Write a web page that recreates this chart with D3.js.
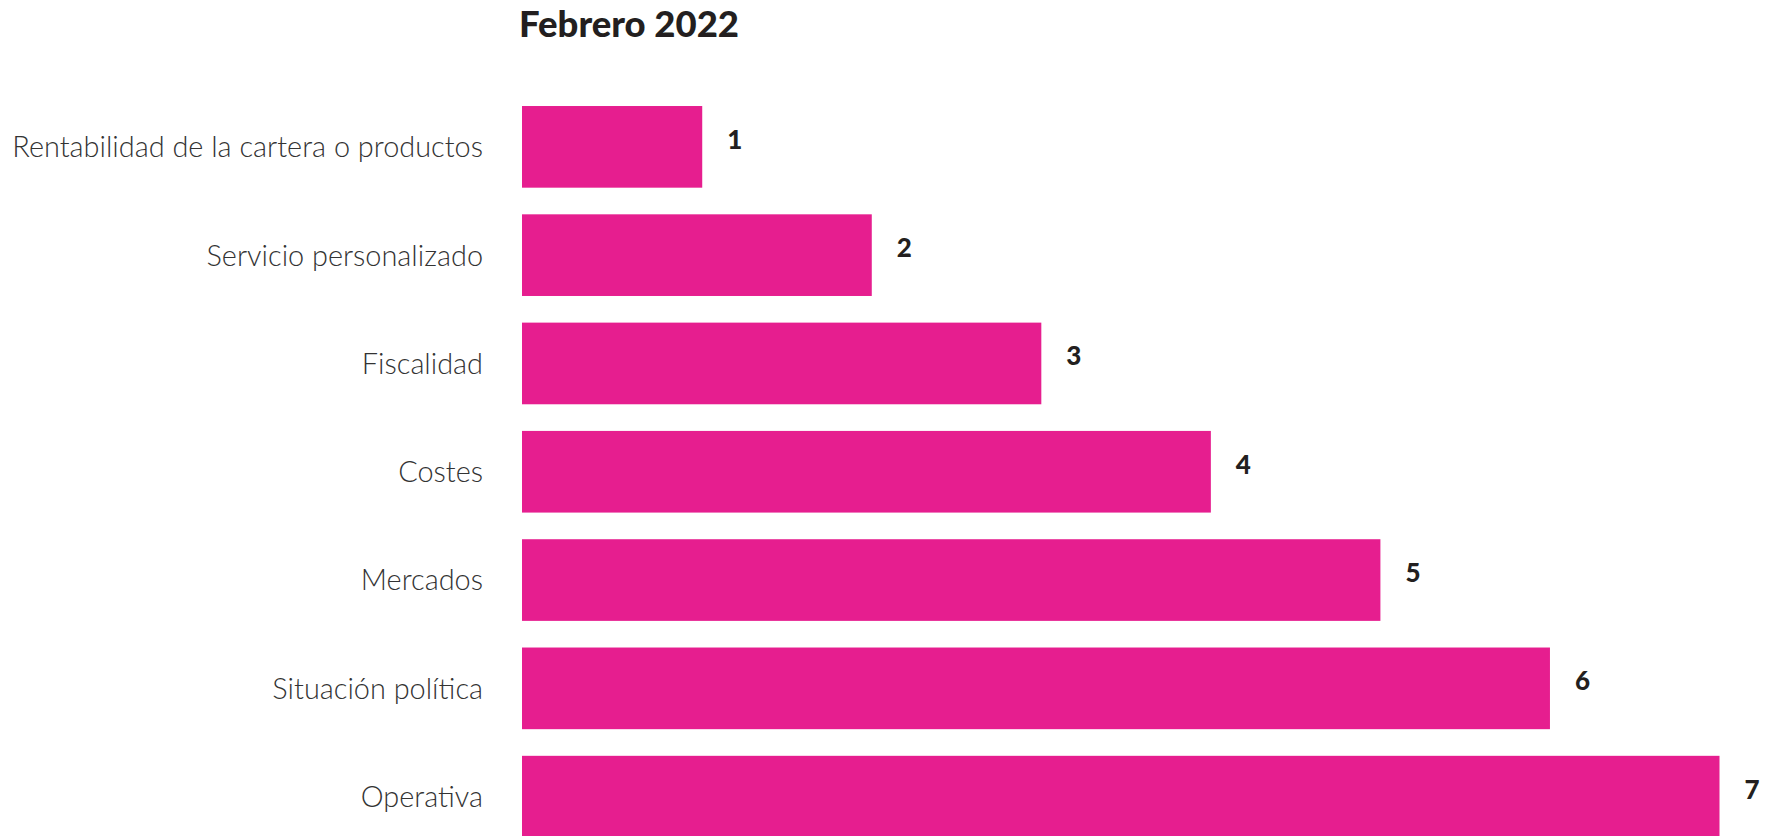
<!DOCTYPE html>
<html>
<head>
<meta charset="utf-8">
<script src="https://cdn.jsdelivr.net/npm/d3@7"></script>
<style>
  html, body { margin: 0; padding: 0; background: #fff; overflow: hidden; }
  svg { display: block; }
  .cat-label { font-family: Lato, sans-serif; font-weight: 300; font-size: 28.9px; fill: #333; }
  .val-label { font-family: Lato, sans-serif; font-weight: 900; font-size: 26px; fill: #231f20; }
  .title { font-family: Lato, sans-serif; font-weight: 900; font-size: 36.5px; fill: #231f20; }
</style>
</head>
<body>
<div id="chart"></div>
<script>
// Chart data
const title = "Febrero 2022";
const categories = [
    "Rentabilidad de la cartera o productos",
    "Servicio personalizado",
    "Fiscalidad",
    "Costes",
    "Mercados",
    "Situación política",
    "Operativa"
];
const values = [1, 2, 3, 4, 5, 6, 7];

function drawChart() {
    const width = 1771;
    const height = 836;
    const barLeft = 522;
    const barRight = 1719.5;

    const svg = d3.select("#chart")
        .append("svg")
        .attr("width", width)
        .attr("height", height);

    // bars start slightly left of the zero point in the original
    const x = d3.scaleLinear()
        .domain([-0.063, d3.max(values)])
        .range([barLeft, barRight]);

    const y = d3.scaleBand()
        .domain(categories)
        .range([92.7, 92.7 + 108.3 * categories.length])
        .paddingInner(0.246)
        .paddingOuter(0.123);

    const rows = categories.map((c, i) => ({ cat: c, value: values[i] }));

    // Bars
    svg.selectAll("rect.bar")
        .data(rows)
        .enter()
        .append("rect")
        .attr("class", "bar")
        .attr("x", x(-0.063))
        .attr("y", d => y(d.cat))
        .attr("width", d => x(d.value) - x(-0.063))
        .attr("height", y.bandwidth())
        .attr("fill", "#e61e8f");

    // Category labels (left)
    svg.selectAll("text.cat-label")
        .data(rows)
        .enter()
        .append("text")
        .attr("class", "cat-label")
        .attr("x", barLeft - 39)
        .attr("y", d => y(d.cat) + y.bandwidth() / 2)
        .attr("dy", "0.36em")
        .attr("text-anchor", "end")
        .text(d => d.cat);

    // Value labels
    svg.selectAll("text.val-label")
        .data(rows)
        .enter()
        .append("text")
        .attr("class", "val-label")
        .attr("x", d => x(d.value) + 25)
        .attr("y", d => y(d.cat) + y.bandwidth() / 2 + 2)
        .attr("text-anchor", "start")
        .text(d => d.value);

    // Title
    svg.append("text")
        .attr("class", "title")
        .attr("x", 519)
        .attr("y", 37)
        .text(title);
}

window.addEventListener('DOMContentLoaded', drawChart);
</script>
</body>
</html>
